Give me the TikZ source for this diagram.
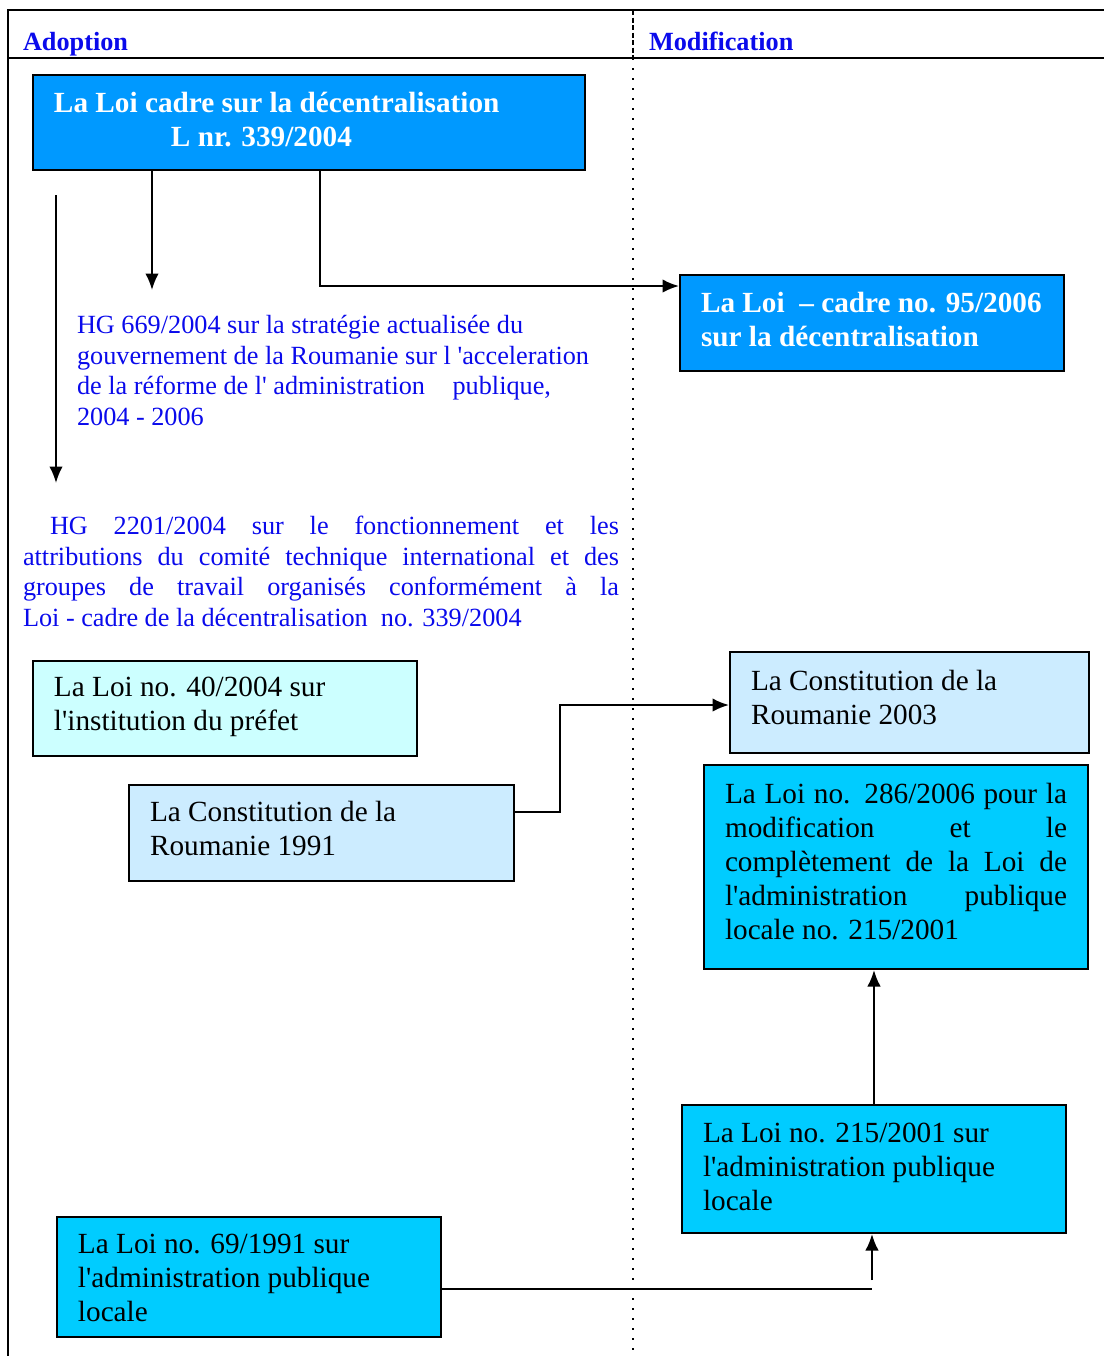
\documentclass[tikz,border=0pt]{standalone}
\usepackage{fontspec}
\setmainfont{Liberation Serif}[Ligatures=TeXOff]
\usetikzlibrary{arrows.meta}
\definecolor{loiblue}{RGB}{0,153,255}
\definecolor{loicyan}{RGB}{0,204,255}
\definecolor{palecyan}{RGB}{204,255,255}
\definecolor{paleblue}{RGB}{204,236,255}
\definecolor{hgblue}{RGB}{10,10,235}
\hyphenpenalty=10000
\tolerance=9999
\tikzset{
  loibox/.style={draw, anchor=north west, inner xsep=8.4pt, inner ysep=0pt,
    align=flush left, text width=136.8pt, font=\fontsize{11.7}{13.6}\selectfont,
    execute at end node={\par\vspace{#1}}},
  loibox/.default=4pt,
  gras/.style={fill=loiblue, text=white, font=\fontsize{11.7}{13.6}\selectfont\bfseries},
  titre/.style={anchor=base west, inner sep=0pt, text=hgblue, font=\fontsize{10.5}{12}\selectfont\bfseries},
  hgtext/.style={anchor=north west, inner sep=0pt, text=hgblue, align=left,
    font=\fontsize{10.5}{12.3}\selectfont}
}
\begin{document}
\begin{tikzpicture}[x=0.4pt,y=-0.4pt,line width=0.8pt,>={Latex[length=6.6pt,width=5.4pt]}]
\useasboundingbox (0,0) rectangle (1104,1356);
% cadre et colonnes
\draw (8,1356)--(8,10)--(1104,10);
\draw (8,58)--(1104,58);
\draw[line width=0.6pt,dash pattern=on 2pt off 1pt] (633,10)--(633,58);
\draw[line width=0.6pt,dash pattern=on 0.8pt off 3.2pt] (633,58)--(633,1356);
\node[titre] (adoption) at (22,50) {Adoption};
\node[titre] (modification) at (648,50) {Modification};

% adoption
\node[loibox=2.4pt,gras,text width=204pt,minimum height=38pt] (loicadre) at (32,74)
  {La Loi cadre sur la décentralisation\\\hspace*{46.8pt}L nr. 339/2004};
\node[hgtext] (hg669) at (76,314) {HG 669/2004 sur la stratégie actualisée du\\
  gouvernement de la Roumanie sur l 'acceleration\\
  de la réforme de l' administration\hspace{11pt}publique,\\2004 - 2006};
\node[hgtext,text width=238.4pt,align=justify] (hg2201) at (22,515)
  {\noindent\hspace*{10.8pt}HG 2201/2004 sur le fonctionnement et les\linebreak
  attributions du comité technique international et des\linebreak
  groupes de travail organisés conformément à la\linebreak
  Loi - cadre de la décentralisation \ no. 339/2004};
\node[loibox=1pt,fill=palecyan,minimum height=38pt] (loi40) at (32,660)
  {La Loi no. 40/2004 sur\\l'institution du préfet};
\node[loibox,fill=paleblue,text width=137.2pt,minimum height=38.4pt] (const91) at (128,784)
  {La Constitution de la\\Roumanie 1991};
\node[loibox=-0.8pt,fill=loicyan,minimum height=48pt] (loi69) at (56,1216)
  {La Loi no. 69/1991 sur\\l'administration publique\\locale};

% modification
\node[loibox=2.4pt,gras,minimum height=38.4pt] (loi95) at (679,274)
  {La Loi \ – cadre no. 95/2006\\sur la décentralisation};
\node[loibox,fill=paleblue,text width=126.8pt,minimum height=40.4pt] (const03) at (729,651)
  {La Constitution de la\\Roumanie 2003};
\node[loibox,fill=loicyan,align=justify,minimum height=81.6pt] (loi286) at (703,764)
  {La Loi no. 286/2006 pour la\linebreak modification et le\linebreak
  complètement de la Loi de\linebreak l'administration publique\linebreak
  locale no. 215/2001};
\node[loibox=1.6pt,fill=loicyan,minimum height=51.2pt] (loi215) at (681,1104)
  {La Loi no. 215/2001 sur\\l'administration publique\\locale};

% fleches
\coordinate (hgtip) at (152,290);
\draw[->] (hgtip |- loicadre.south) -- (hgtip);
\coordinate (k95) at (320,286);
\draw[->] (k95 |- loicadre.south) -- (k95) -- (k95 -| loi95.west);
\coordinate (longstart) at (56,195);
\coordinate (longtip) at (56,483);
\draw[->] (longstart) -- (longtip);
\coordinate (k91) at (560,812);
\coordinate (k03) at (560,705);
\draw[->] (k91 -| const91.east) -- (k91) -- (k03) -- (k03 -| const03.west);
\draw[->] (loi215.north) -- (loi215.north |- loi286.south);
\coordinate (k69) at (872,1289);
\draw (k69 -| loi69.east) -- (k69);
\draw[->] ([yshift=3.6pt]k69) -- (k69 |- loi215.south);
\end{tikzpicture}
\end{document}
